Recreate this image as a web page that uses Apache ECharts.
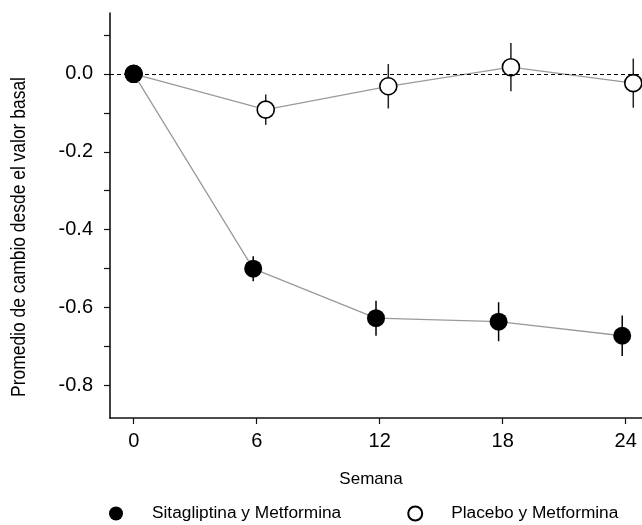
<!DOCTYPE html>
<html>
<head>
<meta charset="utf-8">
<script src="https://cdn.jsdelivr.net/npm/echarts@6/dist/echarts.min.js"></script>
<style>html,body{margin:0;padding:0;background:#fff;}#c{width:642px;height:525px;}</style>
</head>
<body>
<div id="c"></div>
<script>
// ---- data ----
const weekTicks = [0, 6, 12, 18, 24];
const sitaWeeks = [0, 5.83, 11.82, 17.80, 23.83];
const sitaMean = [0, -0.500, -0.627, -0.636, -0.672];
const sitaErr = [0, 0.032, 0.045, 0.050, 0.052];
const placWeeks = [0, 6.44, 12.42, 18.40, 24.37];
const placMean = [0, -0.092, -0.032, 0.017, -0.024];
const placErr = [0, 0.039, 0.057, 0.062, 0.063];
const yTicks = [0.1, 0, -0.1, -0.2, -0.3, -0.4, -0.5, -0.6, -0.7, -0.8];
const yLabels = [0, -0.2, -0.4, -0.6, -0.8];
const sitaName = 'Sitagliptina y Metformina';
const placName = 'Placebo y Metformina';
const xTitle = 'Semana';
const yTitle = 'Promedio de cambio desde el valor basal';

const SANS = "'Liberation Sans', Arial, sans-serif";

const sitaData = sitaWeeks.map((w, i) => [w, sitaMean[i]]);
const placData = placWeeks.map((w, i) => [w, placMean[i]]);
const sitaErrData = sitaWeeks.map((w, i) => [w, sitaMean[i], sitaErr[i]]);
const placErrData = placWeeks.map((w, i) => [w, placMean[i], placErr[i]]);

function errRender(color) {
  return function (params, api) {
    const x = api.value(0), y = api.value(1), e = api.value(2);
    if (!e) return null;
    const p1 = api.coord([x, y + e]);
    const p2 = api.coord([x, y - e]);
    return {
      type: 'line',
      shape: { x1: p1[0], y1: p1[1], x2: p2[0], y2: p2[1] },
      style: { stroke: color, lineWidth: 1.5 }
    };
  };
}

const chart = echarts.init(document.getElementById('c'), null, { renderer: 'canvas' });
chart.setOption({
  animation: false,
  backgroundColor: '#fff',
  grid: { left: 110, right: 0, top: 13, bottom: 107, containLabel: false },
  xAxis: {
    type: 'value',
    min: -1.156, max: 24.795,
    splitLine: { show: false },
    axisLine: { onZero: false, lineStyle: { color: '#111', width: 1.6 } },
    axisTick: { customValues: weekTicks, length: 6, lineStyle: { color: '#111', width: 1.2 } },
    axisLabel: { customValues: weekTicks, margin: 13, fontFamily: SANS, fontSize: 20, color: '#000' }
  },
  yAxis: {
    type: 'value',
    min: -0.883, max: 0.156,
    splitLine: { show: false },
    axisLine: { onZero: false, lineStyle: { color: '#111', width: 1.6 } },
    axisTick: { customValues: yTicks, length: 6, lineStyle: { color: '#111', width: 1.2 } },
    axisLabel: {
      customValues: yLabels, margin: 17, fontFamily: SANS, fontSize: 20, color: '#000',
      formatter: v => Number(v).toFixed(1)
    }
  },
  legend: {
    left: 109, top: 505, padding: 0,
    itemWidth: 14, itemHeight: 14, itemGap: 66,
    textStyle: { fontFamily: SANS, fontSize: 17.3, color: '#000', padding: [0, 0, 0, 24] },
    data: [{ name: sitaName, icon: 'circle' }, { name: placName, icon: 'circle' }]
  },
  graphic: [
    { type: 'text', x: 371, y: 479, style: { text: xTitle, font: '17px ' + SANS, fill: '#000', textAlign: 'center', textVerticalAlign: 'middle', align: 'center', verticalAlign: 'middle' } },
    { type: 'text', x: 19.5, y: 237, rotation: Math.PI / 2, scaleX: 0.872, style: { text: yTitle, font: '20px ' + SANS, fill: '#000', textAlign: 'center', textVerticalAlign: 'middle', align: 'center', verticalAlign: 'middle' } }
  ],
  series: [
    {
      type: 'line', name: 'zero', data: [], z: 0, silent: true,
      markLine: {
        silent: true, symbol: 'none', label: { show: false },
        lineStyle: { color: '#000', width: 1, type: [4, 3] },
        data: [{ yAxis: 0 }]
      }
    },
    { type: 'custom', name: 'errP', data: placErrData, renderItem: errRender('#222'), z: 1, silent: true },
    { type: 'custom', name: 'errS', data: sitaErrData, renderItem: errRender('#000'), z: 1, silent: true },
    {
      type: 'line', name: placName, data: placData, z: 2,
      symbol: 'circle', symbolSize: 17,
      lineStyle: { color: '#9a9a9a', width: 1.3 },
      itemStyle: { color: '#fff', borderColor: '#000', borderWidth: 1.6 }
    },
    {
      type: 'line', name: sitaName, data: sitaData, z: 3,
      symbol: 'circle', symbolSize: 18,
      lineStyle: { color: '#9a9a9a', width: 1.3 },
      itemStyle: { color: '#000', borderColor: '#000', borderWidth: 0 }
    }
  ]
});
</script>
</body>
</html>
